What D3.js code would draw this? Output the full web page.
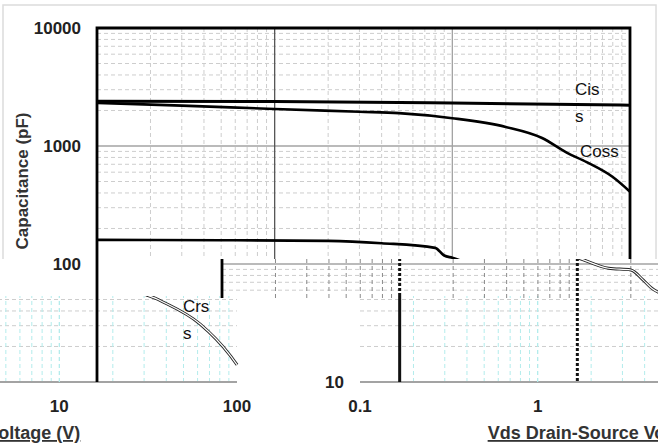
<!DOCTYPE html>
<html>
<head>
<meta charset="utf-8">
<script src="https://cdn.jsdelivr.net/npm/d3@7"></script>
<style>
body { margin: 0; background: #fff; }
svg { display: block; }
text { font-family: "Liberation Sans", Arial, sans-serif; }
</style>
</head>
<body>
<div id="chart"></div>
<script>
// values (V, pF)
var voltsCiss = [0.1, 1, 10, 100],
    ciss = [2400, 2380, 2310, 2220];
var voltsCoss = [0.1, 0.3, 1, 3, 5, 10, 20, 32, 44, 57, 80, 100],
    coss = [2320, 2200, 2060, 1950, 1900, 1720, 1450, 1170, 880, 730, 546, 410];
var voltsCrss = [0.1, 0.5, 2, 4, 8, 9, 10, 15, 20, 23.5, 26, 36, 62, 91, 100],
    crss = [160, 159, 157, 150, 137, 118, 113, 92, 89, 73, 63, 50, 31, 17, 14];

var xTicks = [0.1, 1, 10, 100],
    xTickLabels = ["0.1", "1", "10", "100"];
var yTicks = [10, 100, 1000, 10000],
    yTickLabels = ["10", "100", "1000", "10000"];

var curveNames = [["Cis", "s"], ["Coss"], ["Crs", "s"]];
// where each name sits, in chart units
var curveNameAt = [[49, 2700], [52.3, 807], [49.6, 39.2]];

var width = 658, height = 448;

var x = d3.scaleLog().domain([0.1, 100]).range([97, 630]);
var y = d3.scaleLog().domain([10, 10000]).range([382, 28]);

var line = d3.line()
    .curve(d3.curveMonotoneX)
    .x(function(d) { return x(d[0]); })
    .y(function(d) { return y(d[1]); });

var series = [d3.zip(voltsCiss, ciss), d3.zip(voltsCoss, coss), d3.zip(voltsCrss, crss)];

function minors(domain) {
  var out = [];
  for (var d = domain[0]; d < domain[1] - 1e-9; d *= 10)
    for (var m = 2; m <= 9; m++) out.push(m * d);
  return out;
}

// draws the whole chart (or one layer of it) into g
function draw(g, o) {
  var glitch = !!o.glitch;
  // only keep texts that land inside this strip
  function seen(cx, cy, hw, hh) {
    var c = o.clip;
    return cx + hw + o.dx > c[0] && cx - hw + o.dx < c[2] && cy + hh > c[1] && cy - hh < c[3];
  }

  if (!o.only) {
    if (!glitch) {
      g.append("rect")
          .attr("x", 3).attr("y", 5).attr("width", 653).attr("height", 520)
          .attr("fill", "none").attr("stroke", "#dcdcdc").attr("stroke-width", 1.5);
    }

    g.append("g").selectAll("line")
      .data(minors(y.domain()))
      .enter().append("line")
        .attr("x1", x(0.1)).attr("x2", x(100))
        .attr("y1", function(d) { return y(d); })
        .attr("y2", function(d) { return y(d); })
        .attr("stroke", o.minorH || "#cdcdcd")
        .attr("stroke-dasharray", "4,3");

    g.append("g").selectAll("line")
      .data(minors(x.domain()))
      .enter().append("line")
        .attr("y1", y(10000)).attr("y2", y(10))
        .attr("x1", function(d) { return x(d); })
        .attr("x2", function(d) { return x(d); })
        .attr("stroke", o.minorV || (glitch ? "#b3ecec" : "#cdcdcd"))
        .attr("stroke-dasharray", "4,3");

    g.append("g").selectAll("line")
      .data(yTicks.slice(0, 3))
      .enter().append("line")
        .attr("x1", x(0.1)).attr("x2", x(100))
        .attr("y1", function(d) { return y(d); })
        .attr("y2", function(d) { return y(d); })
        .attr("stroke", "#a3a3a3")
        .attr("stroke-width", function(d, i) { return i === 0 ? 2 : 1.6; });
  }

  if (!o.only || o.only === "majors") {
    g.append("g").selectAll("line")
      .data(xTicks.slice(1, 3))
      .enter().append("line")
        .attr("y1", y(10000)).attr("y2", y(10))
        .attr("x1", function(d) { return x(d); })
        .attr("x2", function(d) { return x(d); })
        .attr("stroke", function(d, i) {
          if (o.majorDash) return "#111";
          if (glitch) return "#b3ecec";
          return i === 0 ? "#555" : "#a3a3a3";
        })
        .attr("stroke-width", o.majorDash ? 3 : 1.3)
        .attr("stroke-dasharray", function(d, i) {
          if (o.majorDash) return o.majorDash[i];
          return glitch ? "4,3" : null;
        });
  }

  if (!o.only) {
    series.forEach(function(s, i) {
      if (glitch) {
        g.append("path").attr("d", line(s)).attr("fill", "none")
            .attr("stroke", "#222").attr("stroke-width", 3);
        g.append("path").attr("d", line(s)).attr("fill", "none")
            .attr("stroke", "#fff").attr("stroke-width", 1.2);
      } else {
        g.append("path").attr("d", line(s)).attr("fill", "none")
            .attr("stroke", "#000").attr("stroke-width", i === 0 ? 3 : 2.6);
      }
    });
  }

  var frame = o.only === "frame" ? "left" : (o.only ? false : (o.frame === undefined ? "all" : o.frame));
  if (frame) {
    var fp = d3.path();
    fp.moveTo(x(0.1), y(10));
    fp.lineTo(x(0.1), y(10000));
    if (frame === "all") {
      fp.lineTo(x(100), y(10000));
      fp.lineTo(x(100), y(10));
    }
    g.append("path").attr("d", fp.toString()).attr("fill", "none")
        .attr("stroke", "#000").attr("stroke-width", 2.8);
  }

  if (o.only) return;

  curveNames.forEach(function(lines, i) {
    var px = x(curveNameAt[i][0]), py = y(curveNameAt[i][1]);
    if (!seen(px + 14, py + 8, 14, 20)) return;
    var t = g.append("text")
        .attr("x", px).attr("y", py)
        .attr("font-size", 17).attr("fill", "#111");
    lines.forEach(function(s, j) {
      t.append("tspan").attr("x", px).attr("dy", j === 0 ? 0 : 27).text(s);
    });
  });

  g.append("g").selectAll("text")
    .data(yTicks.filter(function(d) { return seen(66, y(d), 14, 7); }))
    .enter().append("text")
      .attr("x", 81)
      .attr("y", function(d) { return y(d) + 6; })
      .attr("text-anchor", "end")
      .attr("font-size", 17).attr("font-weight", "bold").attr("fill", "#222")
      .text(function(d) { return yTickLabels[yTicks.indexOf(d)]; });

  g.append("g").selectAll("text")
    .data(xTicks.filter(function(d) { return seen(x(d), 406, 14, 7); }))
    .enter().append("text")
      .attr("x", function(d) { return x(d); })
      .attr("y", 412)
      .attr("text-anchor", "middle")
      .attr("font-size", 17).attr("font-weight", "bold").attr("fill", "#222")
      .text(function(d) { return xTickLabels[xTicks.indexOf(d)]; });

  if (seen(22, 181, 7, 74)) {
    g.append("text")
        .attr("transform", "translate(28,181)rotate(-90)")
        .attr("text-anchor", "middle")
        .attr("font-size", 17).attr("font-weight", "bold").attr("fill", "#333")
        .text("Capacitance (pF)");
  }

  if (seen(349, 433, 125, 8)) {
    g.append("text")
        .attr("x", 349).attr("y", 439)
        .attr("text-anchor", "middle")
        .attr("font-size", 18).attr("font-weight", "bold").attr("fill", "#333")
        .attr("text-decoration", "underline")
        .text("Vds Drain-Source Voltage (V)");
  }
}

// the picture is made of shifted strips of the same chart
var tiles = [
  {dx: 0,    clip: [0, 0, 658, 259],     opts: {}},
  {dx: 0,    clip: [0, 259, 92, 296],    opts: {glitch: true, frame: false, minorH: "#d9a3a3"}},
  {dx: -393, clip: [0, 296, 258, 448],   opts: {glitch: true, frame: false}},
  {dx: 263,  clip: [300, 296, 658, 448], opts: {glitch: true, frame: false}},
  {dx: 125,  clip: [205, 259, 658, 298], opts: {glitch: true, frame: "left", minorV: "#8a8a8a", majorDash: ["3,2", "3,2"]}},
  {dx: 0,    clip: [92, 259, 102, 383],  opts: {only: "frame"}},
  {dx: 125,  clip: [380, 296, 658, 383], opts: {only: "majors", majorDash: [null, "3,2"]}}
];

var svg = d3.select("#chart").append("svg")
    .attr("width", width)
    .attr("height", height);

svg.append("rect").attr("width", width).attr("height", height).attr("fill", "#fff");

var defs = svg.append("defs");

tiles.forEach(function(t, i) {
  defs.append("clipPath").attr("id", "tile" + i)
    .append("rect")
      .attr("x", t.clip[0]).attr("y", t.clip[1])
      .attr("width", t.clip[2] - t.clip[0]).attr("height", t.clip[3] - t.clip[1]);

  t.opts.clip = t.clip;
  t.opts.dx = t.dx;
  var g = svg.append("g").attr("clip-path", "url(#tile" + i + ")")
    .append("g").attr("transform", "translate(" + t.dx + ",0)");
  draw(g, t.opts);
});
</script>
</body>
</html>
